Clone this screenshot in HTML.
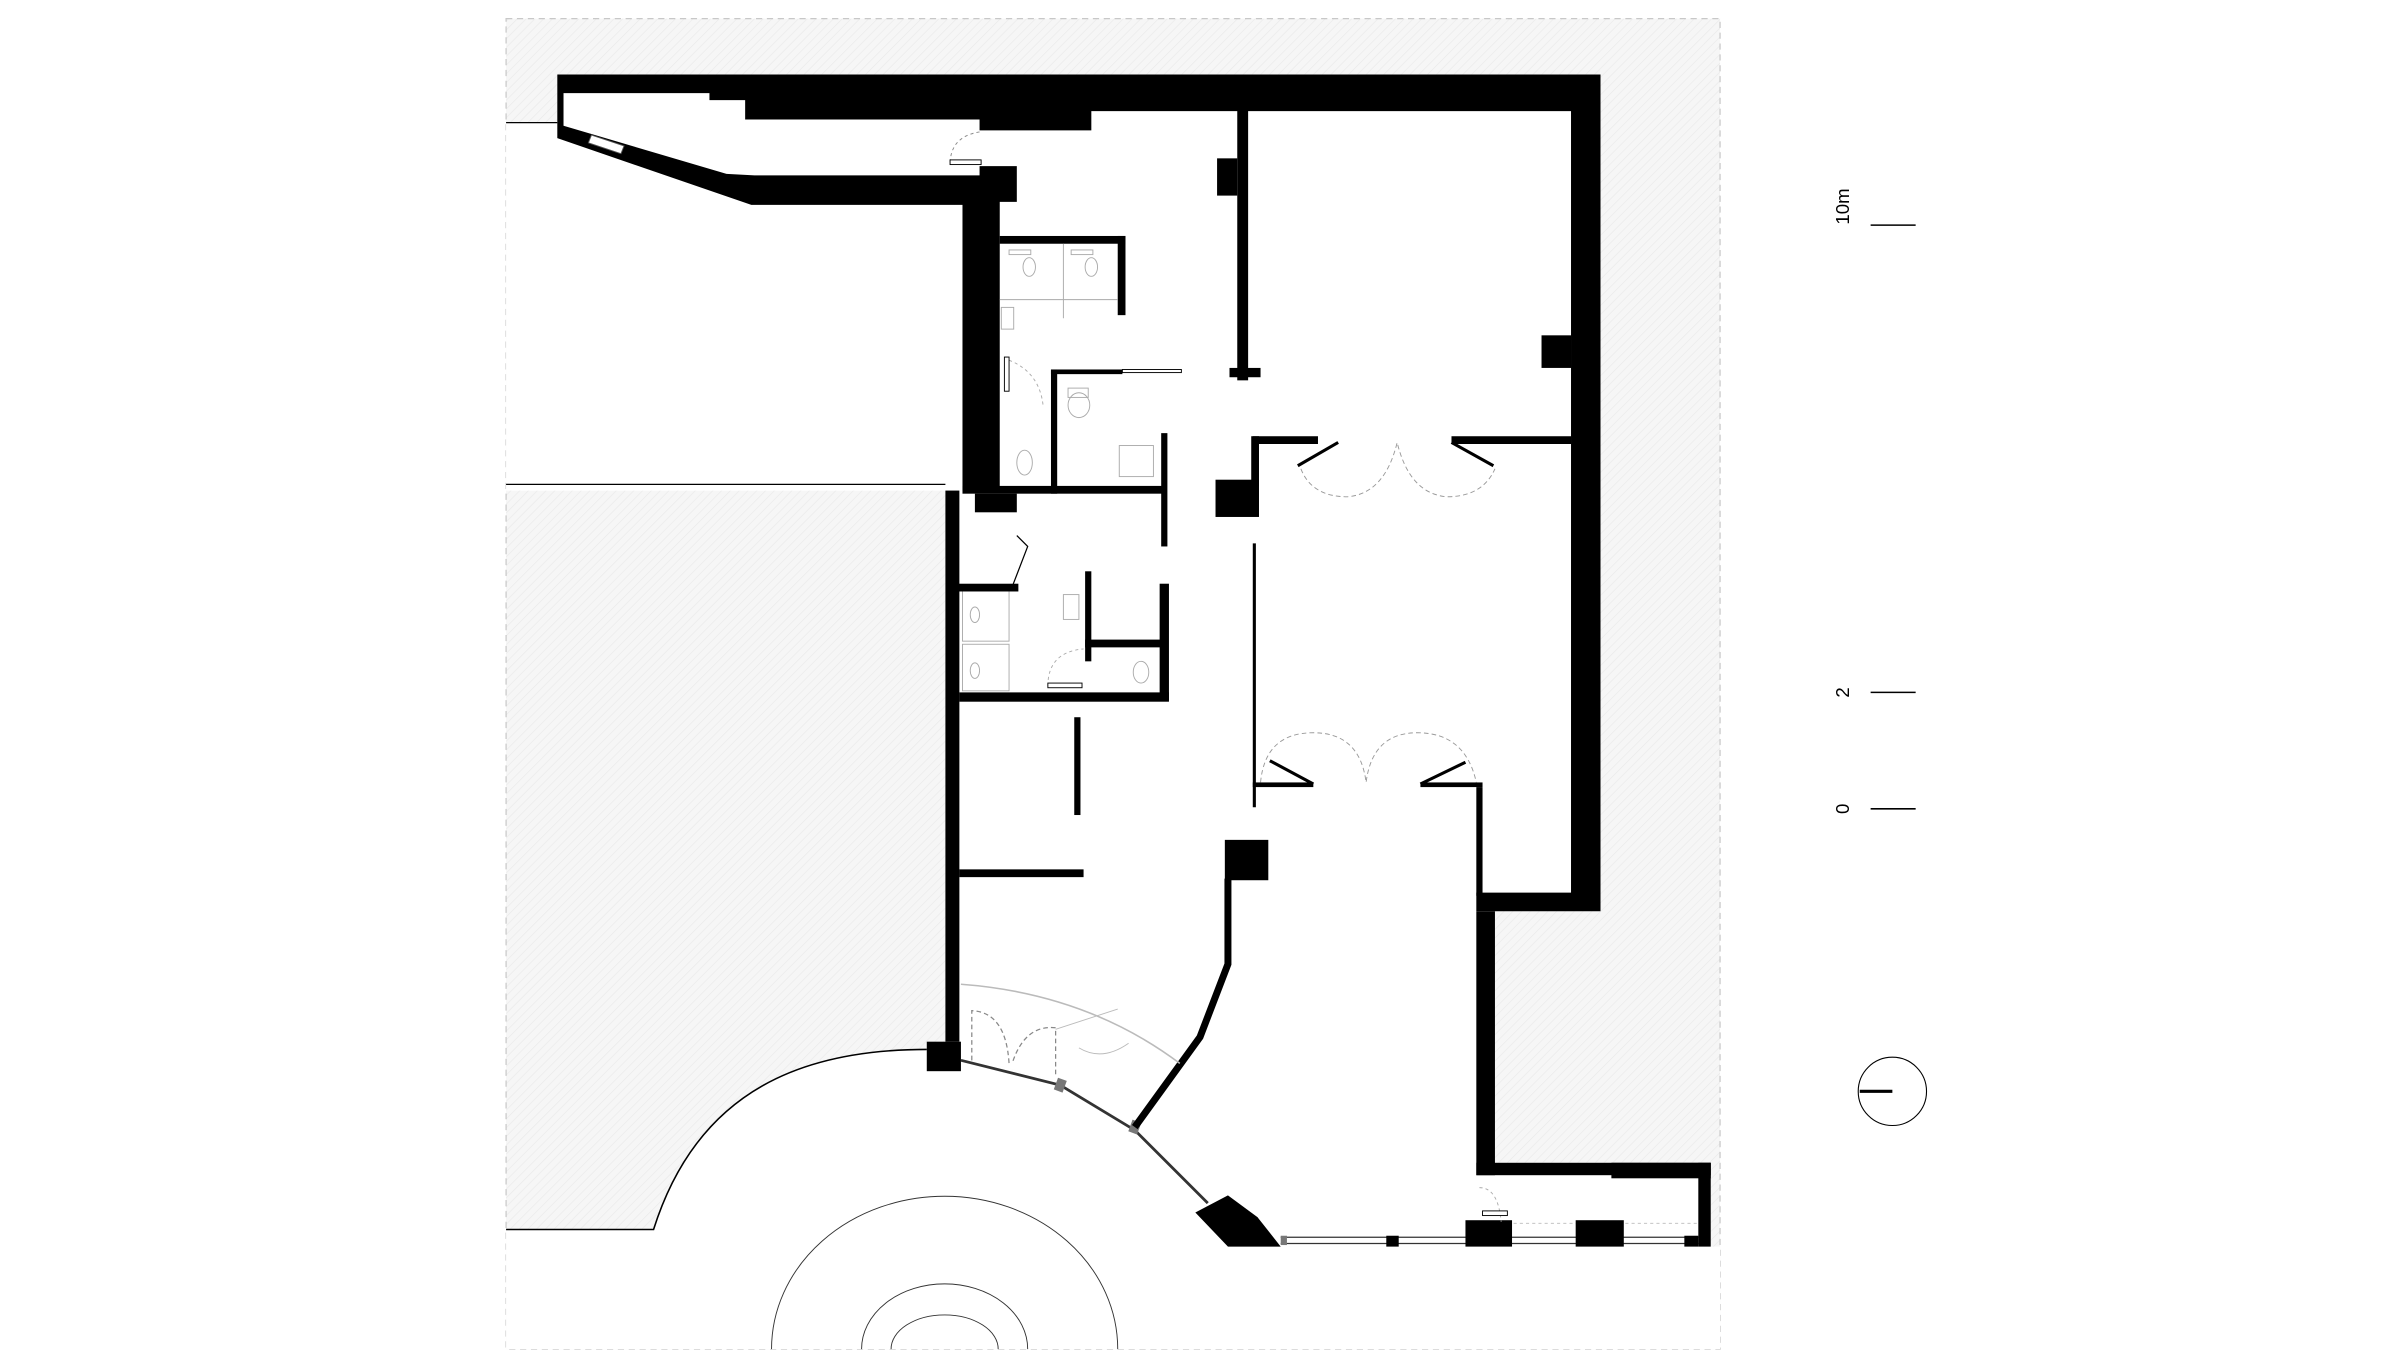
<!DOCTYPE html>
<html><head><meta charset="utf-8"><style>
html,body{margin:0;padding:0;background:#fff;}
svg{display:block;}
text{font-family:"Liberation Sans",sans-serif;}
</style></head><body>
<svg width="2400" height="1350" viewBox="0 0 1546 869.6" preserveAspectRatio="none" xmlns="http://www.w3.org/2000/svg">
<defs>
<pattern id="h" width="4" height="4" patternUnits="userSpaceOnUse" patternTransform="rotate(45)">
<rect width="4" height="4" fill="#f6f6f6"/><line x1="0" y1="0" x2="0" y2="4" stroke="#e9e9e9" stroke-width="0.8"/>
</pattern>
</defs>
<rect width="1546" height="870" fill="#fff"/>
<rect x="326" y="12" width="782" height="857" fill="url(#h)" stroke="#c8c8c8" stroke-width="0.8" stroke-dasharray="4 3"/>
<!-- white areas -->
<polygon points="326,79 359,79 359,89 484,132 620,132 620,316 326,316" fill="#fff"/>
<path d="M326 792 L421 792 C450 700 520 676 597 676 L619 680 L683 697 L731 726 L778 773 L791 803 L1108 803 L1108 869 L326 869 Z" fill="#fff"/>
<polygon points="359,48 1031,48 1031,587 963,587 963,749 1102,749 1102,803 791,803 770,781 731,726 683,697 619,680 609,670 609,316 620,316 620,132 484,132 359,89" fill="#fff"/>
<line x1="326" y1="79" x2="359" y2="79" stroke="#000" stroke-width="0.8"/>
<line x1="326" y1="312" x2="609" y2="312" stroke="#000" stroke-width="0.8"/>
<path d="M326 792 L421 792 C450 700 520 676 597 676" fill="none" stroke="#000" stroke-width="1"/>
<!-- concentric arcs -->
<path d="M497 869 A111 98 0 0 1 720 869" fill="none" stroke="#333" stroke-width="0.6"/>
<path d="M555 869 A53.5 42 0 0 1 662 869" fill="none" stroke="#333" stroke-width="0.6"/>
<path d="M574 869 A34.5 22 0 0 1 643 869" fill="none" stroke="#333" stroke-width="0.6"/>
<!-- walls -->
<polygon fill="#000" points="359,48 1031,48 1031,587 951,587 951,575 1012,575 1012,71.6 703,71.6 703,84 631,84 631,77 480,77 480,64.5 457,64.5 457,60 363,60 363,81 468,112 486,113 631,113 631,107 655,107 655,130 644,130 644,316 620,316 620,132 484,132 359,89"/>
<polygon points="381,87 402,94 400,99 379,92" fill="#fff" stroke="#555" stroke-width="0.6"/>
<rect x="993" y="216" width="19" height="21" fill="#000"/>
<rect x="951" y="507" width="4" height="70" fill="#000"/>
<rect x="951" y="587" width="12" height="170" fill="#000"/>
<rect x="951" y="749" width="151" height="8" fill="#000"/>
<rect x="1038" y="749" width="64" height="10" fill="#000"/>
<rect x="1094" y="749" width="8" height="54" fill="#000"/>
<!-- storefront -->
<line x1="825" y1="797" x2="1094" y2="797" stroke="#333" stroke-width="0.8"/>
<line x1="825" y1="801" x2="1094" y2="801" stroke="#333" stroke-width="0.8"/>
<line x1="955" y1="788" x2="1094" y2="788" stroke="#bbb" stroke-width="0.6" stroke-dasharray="2 2"/>
<polygon points="770,781 791,770 810,784 825,803 791,803" fill="#000"/>
<rect x="944" y="786" width="30" height="17" fill="#000"/>
<rect x="1015" y="786" width="31" height="17" fill="#000"/>
<rect x="893" y="796" width="8" height="7" fill="#000"/>
<rect x="1085" y="796" width="9" height="7" fill="#000"/>
<rect x="825" y="796" width="4" height="6" fill="#777"/>
<rect x="597" y="671" width="22" height="19" fill="#000"/>
<rect x="609" y="316" width="9" height="355" fill="#000"/>
<polyline points="619,683 683,699 731,728 778,775" fill="none" stroke="#333" stroke-width="1.8"/>
<rect x="680" y="695" width="6" height="8" fill="#777" transform="rotate(20 683 699)"/>
<rect x="728" y="722" width="6" height="8" fill="#777" transform="rotate(20 731 726)"/>
<polyline points="731,726 773,668 791,621 791,566" fill="none" stroke="#000" stroke-width="4.5"/>
<rect x="789" y="541" width="28" height="26" fill="#000"/>
<!-- entrance arcs -->
<path d="M619 634 Q700 640 760 685" fill="none" stroke="#bbb" stroke-width="1"/>
<path d="M626 683 L626 651 Q648 652 650 685" fill="none" stroke="#888" stroke-width="0.8" stroke-dasharray="3 2"/>
<path d="M680 692 L680 662 Q660 660 652 685" fill="none" stroke="#888" stroke-width="0.8" stroke-dasharray="3 2"/>
<path d="M680 663 L720 650 M695 675 Q710 684 727 672" fill="none" stroke="#bbb" stroke-width="0.6"/>
<!-- partitions -->
<rect x="797" y="68" width="7" height="177" fill="#000"/>
<rect x="784" y="102" width="13" height="24" fill="#000"/>
<rect x="792" y="237" width="20" height="6" fill="#000"/>
<rect x="807" y="281" width="42" height="5" fill="#000"/>
<rect x="806" y="281" width="5" height="32" fill="#000"/>
<rect x="783" y="309" width="28" height="24" fill="#000"/>
<rect x="935" y="281" width="77" height="5" fill="#000"/>
<line x1="862" y1="285" x2="836" y2="300" stroke="#000" stroke-width="2"/>
<line x1="935" y1="285" x2="962" y2="300" stroke="#000" stroke-width="2"/>
<path d="M838 302 Q845 320 868 320 Q892 318 900 285 Q908 318 932 320 Q955 320 963 302" fill="none" stroke="#999" stroke-width="0.6" stroke-dasharray="3 2"/>
<line x1="808" y1="350" x2="808" y2="520" stroke="#000" stroke-width="2"/>
<rect x="807" y="504" width="39" height="3" fill="#000"/>
<rect x="915" y="504" width="40" height="3" fill="#000"/>
<line x1="846" y1="505" x2="818" y2="490" stroke="#000" stroke-width="2"/>
<line x1="915" y1="505" x2="944" y2="491" stroke="#000" stroke-width="2"/>
<path d="M812 504 Q815 472 846 472 Q876 472 880 504 Q884 472 913 472 Q944 472 951 504" fill="none" stroke="#999" stroke-width="0.6" stroke-dasharray="3 2"/>
<!-- top door -->
<path d="M631 85 Q612 88 612 106" fill="none" stroke="#888" stroke-width="0.6" stroke-dasharray="2 2"/>
<rect x="612" y="103" width="20" height="3" fill="#fff" stroke="#000" stroke-width="0.6"/>
<!-- WC upper -->
<rect x="644" y="152" width="81" height="5" fill="#000"/>
<rect x="720" y="152" width="5" height="51" fill="#000"/>
<g fill="none" stroke="#aaa" stroke-width="0.6">
<line x1="685" y1="157" x2="685" y2="205"/><line x1="644" y1="193" x2="720" y2="193"/>
<rect x="650" y="161" width="14" height="3"/><rect x="690" y="161" width="14" height="3"/>
<ellipse cx="663" cy="172" rx="4" ry="6"/><ellipse cx="703" cy="172" rx="4" ry="6"/>
<rect x="645" y="198" width="8" height="14"/>
<ellipse cx="695" cy="261" rx="7" ry="8"/><rect x="688" y="250" width="13" height="6"/>
<rect x="721" y="287" width="22" height="20"/>
<ellipse cx="660" cy="298" rx="5" ry="8"/>
<path d="M650 232 Q670 240 672 262" stroke-dasharray="2 2"/>
<rect x="620" y="378" width="30" height="35"/><rect x="620" y="415" width="30" height="30"/>
<ellipse cx="628" cy="396" rx="3" ry="5"/><ellipse cx="628" cy="432" rx="3" ry="5"/>
<rect x="685" y="383" width="10" height="16"/>
<ellipse cx="735" cy="433" rx="5" ry="7"/>
<path d="M675 442 Q675 420 698 418" stroke-dasharray="2 2"/>
<path d="M1112 0" /><path d="M953 765 Q965 765 967 787" stroke-dasharray="2 2"/>
</g>
<rect x="677" y="238" width="46" height="3" fill="#000"/>
<rect x="723" y="238" width="38" height="2" fill="#fff" stroke="#000" stroke-width="0.6"/>
<rect x="677" y="238" width="4" height="80" fill="#000"/>
<rect x="647" y="230" width="3" height="22" fill="#fff" stroke="#000" stroke-width="0.6"/>
<rect x="620" y="313" width="129" height="5" fill="#000"/>
<rect x="748" y="279" width="4" height="73" fill="#000"/>
<!-- lower block -->
<rect x="628" y="318" width="27" height="12" fill="#000"/>
<polyline points="655,345 662,352 652,378" fill="none" stroke="#000" stroke-width="0.8"/>
<rect x="613" y="376" width="43" height="5" fill="#000"/>
<rect x="613" y="376" width="4" height="75" fill="#000"/>
<rect x="699" y="368" width="4" height="58" fill="#000"/>
<rect x="699" y="412" width="50" height="5" fill="#000"/>
<rect x="747" y="376" width="6" height="75" fill="#000"/>
<rect x="618" y="446" width="135" height="6" fill="#000"/>
<rect x="675" y="440" width="22" height="3" fill="#fff" stroke="#000" stroke-width="0.6"/>
<rect x="692" y="462" width="4" height="63" fill="#000"/>
<rect x="618" y="560" width="80" height="5" fill="#000"/>
<rect x="955" y="780" width="16" height="3" fill="#fff" stroke="#000" stroke-width="0.6"/>
<!-- scale bar -->
<g stroke="#000" stroke-width="1">
<line x1="1205" y1="145" x2="1234" y2="145"/>
<line x1="1205" y1="446" x2="1234" y2="446"/>
<line x1="1205" y1="521" x2="1234" y2="521"/>
</g>
<text x="1191" y="133" font-size="12" text-anchor="middle" transform="rotate(-90 1191 133)">10m</text>
<text x="1191" y="446" font-size="12" text-anchor="middle" transform="rotate(-90 1191 446)">2</text>
<text x="1191" y="521" font-size="12" text-anchor="middle" transform="rotate(-90 1191 521)">0</text>
<circle cx="1219" cy="703" r="22" fill="none" stroke="#000" stroke-width="0.7"/>
<line x1="1198" y1="703" x2="1219" y2="703" stroke="#000" stroke-width="2"/>
</svg>
</body></html>
